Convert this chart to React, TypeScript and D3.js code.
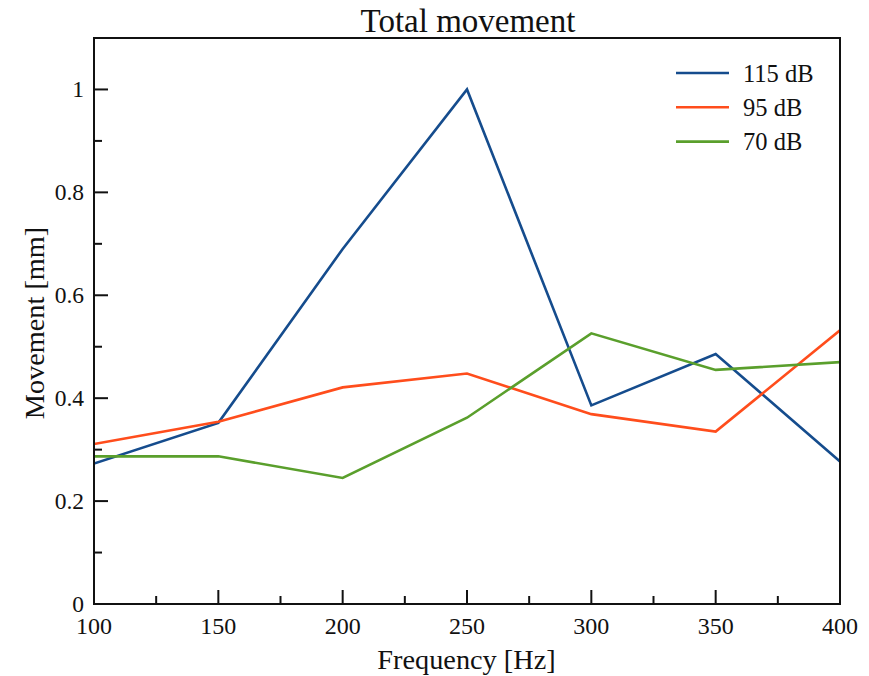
import React from "react";
import * as d3 from "d3";

// frequencies in Hz
const freqs = [100, 150, 200, 250, 300, 350, 400];

// movement in mm
const mov115 = [0.273, 0.352, 0.69, 1.0, 0.386, 0.486, 0.277];
const mov95 = [0.311, 0.354, 0.421, 0.448, 0.369, 0.335, 0.532];
const mov70 = [0.287, 0.287, 0.245, 0.362, 0.526, 0.455, 0.47];

const seriesNames = ["115 dB", "95 dB", "70 dB"];
const seriesColors = ["#154c8d", "#ff4d1c", "#5a9f2c"];

const xTicks = [100, 150, 200, 250, 300, 350, 400];
const xMinor = [125, 175, 225, 275, 325, 375];
const yTicks = [0, 0.2, 0.4, 0.6, 0.8, 1];
const yMinor = [0.1, 0.3, 0.5, 0.7, 0.9];

const W = 869;
const H = 676;
const left = 94, right = 840, top = 38, bottom = 604;
const FONT = "'Liberation Serif', 'Times New Roman', serif";

export default function App() {
  const x = d3.scaleLinear().domain([100, 400]).range([left, right]);
  const y = d3.scaleLinear().domain([0, 1.1]).range([bottom, top]);

  const line = d3.line<number>()
    .x((d, i) => x(freqs[i]))
    .y(d => y(d));

  const all = [mov115, mov95, mov70];

  return (
    <div style={{ position: "absolute", left: 0, top: 0 }}>
      <svg width={W} height={H} style={{ display: "block", background: "#fff" }}>
        <defs>
          <clipPath id="plot">
            <rect x={left} y={top} width={right - left} height={bottom - top} />
          </clipPath>
        </defs>

        {/* data lines */}
        <g clipPath="url(#plot)">
          {all.map((s, i) => (
            <path key={i} d={line(s) || ""} fill="none"
              stroke={seriesColors[i]} strokeWidth={2.6}
              strokeLinejoin="miter" />
          ))}
        </g>

        {/* frame */}
        <rect x={left} y={top} width={right - left} height={bottom - top}
          fill="none" stroke="#111" strokeWidth={2} />

        {/* x ticks */}
        {xTicks.map(t => (
          <g key={"x" + t}>
            <line x1={x(t)} x2={x(t)} y1={bottom} y2={bottom - 14} stroke="#111" strokeWidth={2} />
            <text x={x(t)} y={633.5} textAnchor="middle" fontFamily={FONT} fontSize={24} fill="#111">
              {t}
            </text>
          </g>
        ))}
        {xMinor.map(t => (
          <line key={"xm" + t} x1={x(t)} x2={x(t)} y1={bottom} y2={bottom - 8} stroke="#111" strokeWidth={2} />
        ))}

        {/* y ticks */}
        {yTicks.map(t => (
          <g key={"y" + t}>
            <line x1={left} x2={left + 14} y1={y(t)} y2={y(t)} stroke="#111" strokeWidth={2} />
            <text x={84} y={y(t) + 8} textAnchor="end" fontFamily={FONT} fontSize={23.5} fill="#111">
              {t}
            </text>
          </g>
        ))}
        {yMinor.map(t => (
          <line key={"ym" + t} x1={left} x2={left + 8} y1={y(t)} y2={y(t)} stroke="#111" strokeWidth={2} />
        ))}

        {/* title and axis labels */}
        <text x={(left + right) / 2 + 1} y={31.5} textAnchor="middle" fontFamily={FONT} fontSize={33} fill="#111">
          Total movement
        </text>
        <text x={(left + right) / 2 - 0.5} y={669} textAnchor="middle" fontFamily={FONT} fontSize={28.3} fill="#111">
          Frequency [Hz]
        </text>
        <text transform={`translate(44, ${(top + bottom) / 2 + 2}) rotate(-90)`} textAnchor="middle"
          fontFamily={FONT} fontSize={28.3} fill="#111">
          Movement [mm]
        </text>

        {/* legend */}
        {seriesNames.map((n, i) => (
          <g key={n} transform={`translate(676, ${73 + i * 34.3})`}>
            <line x1={0} x2={53} y1={0} y2={0} stroke={seriesColors[i]} strokeWidth={2.6} />
            <text x={67} y={8.5} fontFamily={FONT} fontSize={24.5} fill="#111">{n}</text>
          </g>
        ))}
      </svg>
    </div>
  );
}
